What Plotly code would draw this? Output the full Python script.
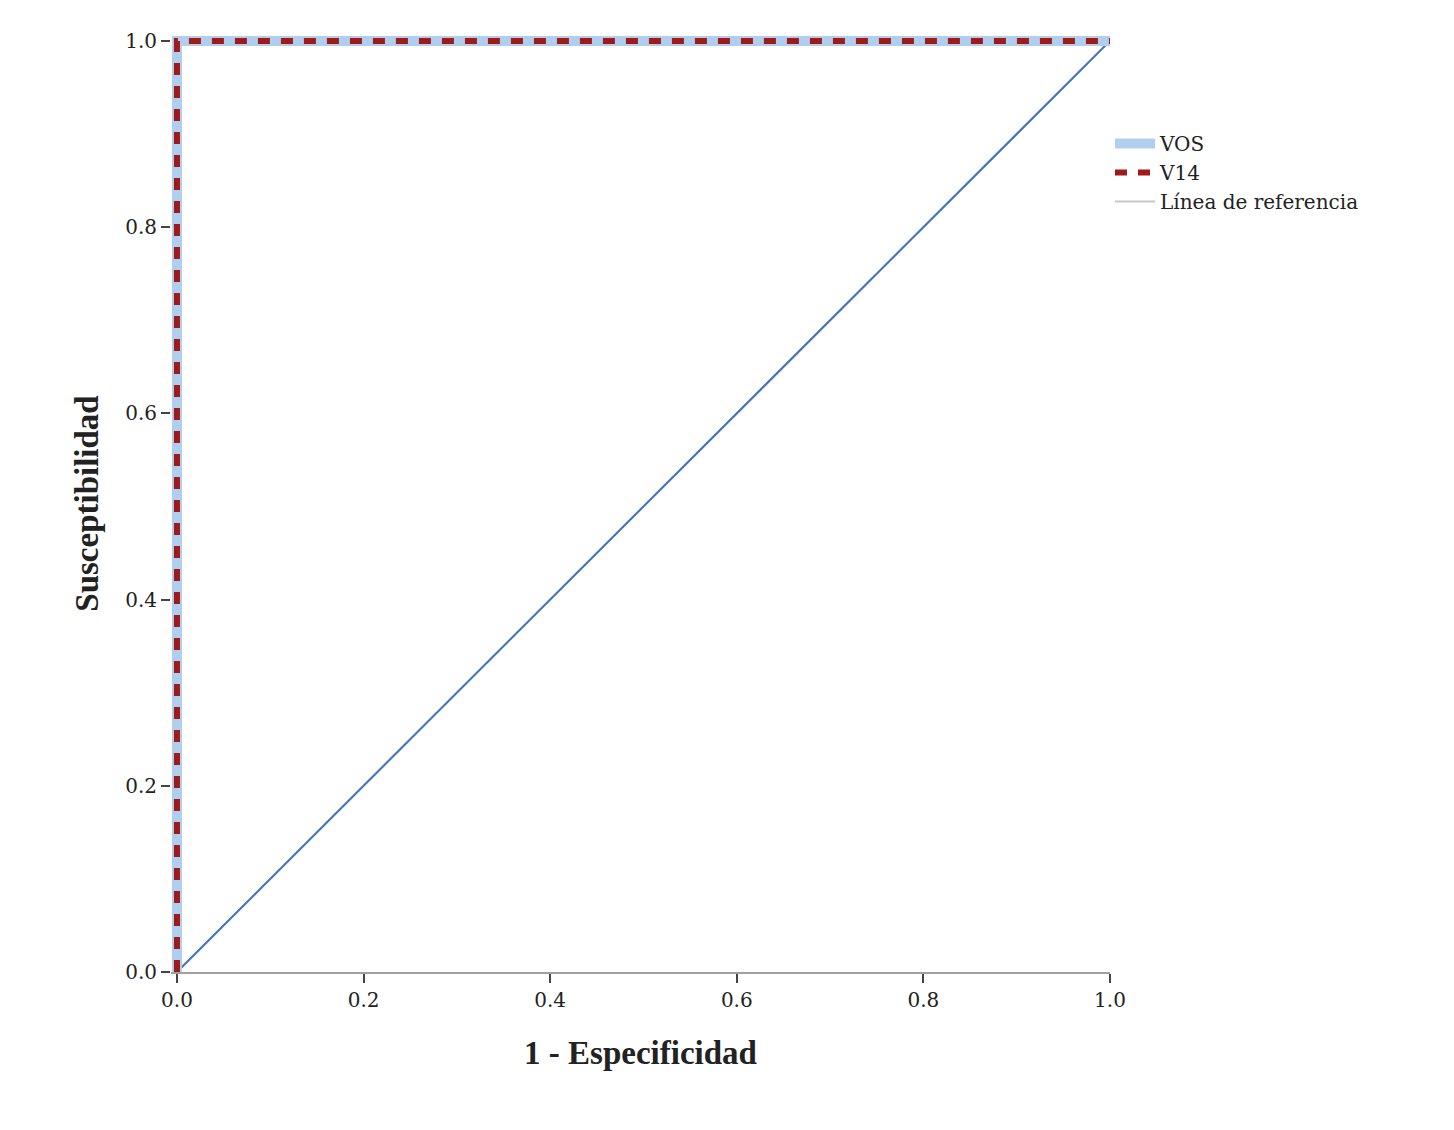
import plotly.graph_objects as go

# ROC data
fpr_vos = [0.0, 0.0, 1.0]
tpr_vos = [0.0, 1.0, 1.0]
fpr_v14 = [0.0, 0.0, 1.0]
tpr_v14 = [0.0, 1.0, 1.0]
ref_x = [0.0, 1.0]
ref_y = [0.0, 1.0]
tick_vals = [0.0, 0.2, 0.4, 0.6, 0.8, 1.0]
tick_text = ["0.0", "0.2", "0.4", "0.6", "0.8", "1.0"]

FONT = "Liberation Serif, Times New Roman, serif"
SMALL_FONT = "DejaVu Serif, serif"

fig = go.Figure()

# reference line: grey underlay with blue line on top
fig.add_trace(go.Scatter(
    x=ref_x, y=ref_y, mode="lines", name="Línea de referencia",
    line=dict(color="#c8c8c8", width=2),
))
fig.add_trace(go.Scatter(
    x=ref_x, y=ref_y, mode="lines", showlegend=False,
    line=dict(color="#4472c4", width=2),
))
fig.add_trace(go.Scatter(
    x=fpr_vos, y=tpr_vos, mode="lines", name="VOS",
    line=dict(color="#b0cfee", width=10),
))
fig.add_trace(go.Scatter(
    x=fpr_v14, y=tpr_v14, mode="lines", name="V14",
    line=dict(color="#a01a1a", width=6, dash="12px,11px"),
))

# legend order: VOS, V14, reference
fig.data[2].legendrank = 1
fig.data[3].legendrank = 2
fig.data[0].legendrank = 3

axis_common = dict(
    tickvals=tick_vals,
    ticktext=tick_text,
    ticks="outside",
    ticklen=9,
    tickwidth=2,
    tickcolor="#444444",
    linecolor="#a0a0a0",
    linewidth=2,
    showgrid=False,
    zeroline=False,
    tickfont=dict(family=SMALL_FONT, size=20, color="#222222"),
)

# small padding on the ranges so the thick curves at x=0 / y=1 are not clipped;
# the page body adds an 8px offset, margins account for it
fig.update_layout(
    width=1454,
    height=1130,
    plot_bgcolor="white",
    paper_bgcolor="white",
    margin=dict(l=163, r=352, t=27, b=166),
    font=dict(family=FONT, color="#222222"),
    xaxis=dict(
        **axis_common,
        range=[-0.0064, 1.0],
        showline=True,
        title=dict(text="<b>1 - Especificidad</b>", font=dict(family=FONT, size=33), standoff=30),
    ),
    yaxis=dict(
        **axis_common,
        range=[0.0, 1.0064],
        showline=False,
        title=dict(text="<b>Susceptibilidad</b>", font=dict(family=FONT, size=33), standoff=16),
    ),
    legend=dict(
        x=1.0, y=0.905, xanchor="left", yanchor="top",
        font=dict(family=SMALL_FONT, size=20, color="#222222"),
        tracegroupgap=0, itemwidth=40, bgcolor="rgba(0,0,0,0)",
    ),
    showlegend=True,
)

fig.write_html("out.html")
